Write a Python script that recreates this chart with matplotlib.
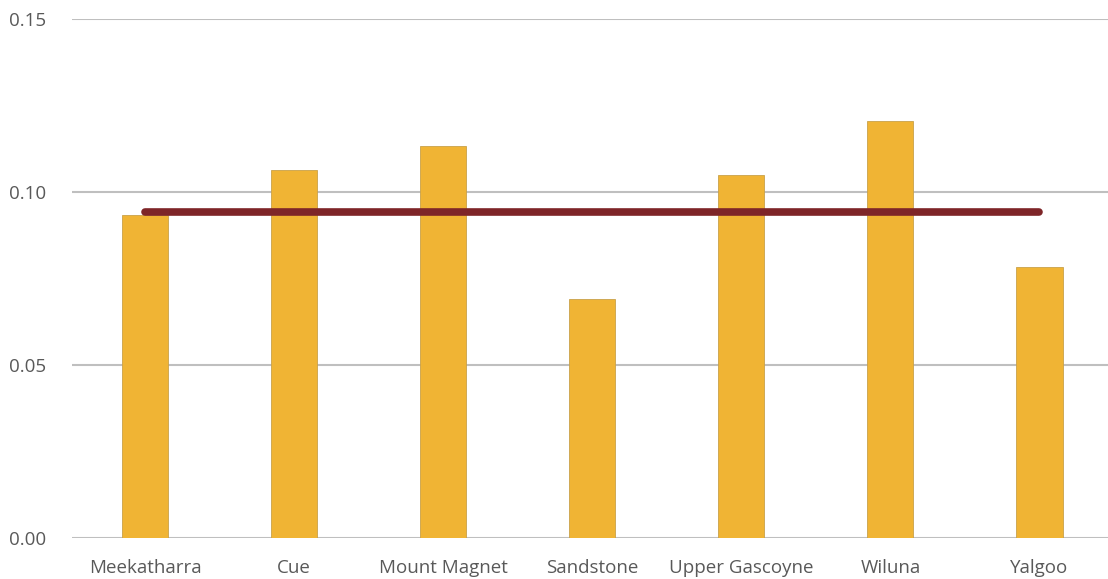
import numpy as np
import matplotlib.pyplot as plt

plt.rcParams['font.family'] = ['Open Sans', 'DejaVu Sans']

# Data
regions = ['Meekatharra', 'Cue', 'Mount Magnet', 'Sandstone',
           'Upper Gascoyne', 'Wiluna', 'Yalgoo']
values = [0.0934, 0.1064, 0.1133, 0.0691, 0.1049, 0.1205, 0.0783]
average = [0.0942] * len(regions)
yticks = [0.00, 0.05, 0.10, 0.15]

fig = plt.figure(figsize=(11.08, 5.79), dpi=100)
ax = fig.add_axes([0.065, 0.0708, 0.935, 0.8964])

x = np.arange(len(regions))
ax.bar(x, values, width=0.31, color='#F0B434', edgecolor='#C9A24A',
       linewidth=0.6, zorder=2)
ax.plot(x, average, color='#7E2528', linewidth=5.5, solid_capstyle='round',
        zorder=3)

ax.set_ylim(0, 0.15)
ax.set_xlim(-0.49, 6.46)
ax.set_yticks(yticks)
ax.set_yticklabels([f'{t:.2f}' for t in yticks])
ax.set_xticks(x)
ax.set_xticklabels(regions)

ax.grid(axis='y', color='#BFBFBF', linewidth=1.5, zorder=0)
ax.set_axisbelow(True)
for s in ax.spines.values():
    s.set_visible(False)
ax.tick_params(length=0, labelsize=13.5, colors='#595959')
ax.tick_params(axis='y', pad=19)
ax.tick_params(axis='x', pad=15)

plt.savefig('out.png', dpi=100)
plt.close()
